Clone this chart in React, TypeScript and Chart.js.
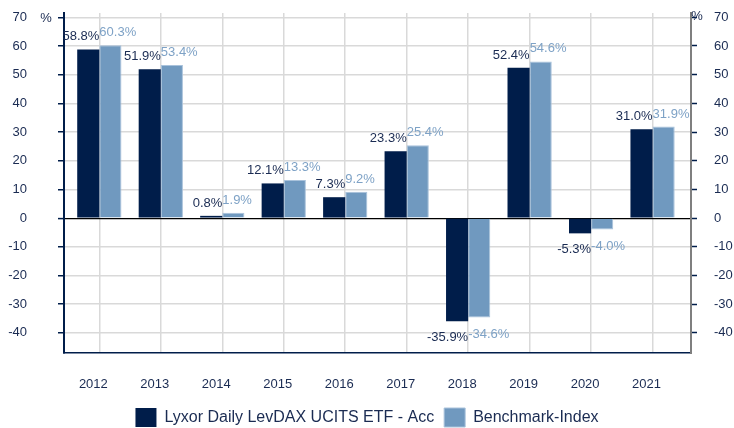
import React, { useEffect, useRef } from "react";
import { Chart, registerables } from "chart.js";

Chart.register(...registerables);

const years = ["2012", "2013", "2014", "2015", "2016", "2017", "2018", "2019", "2020", "2021"];
const etfValues = [58.8, 51.9, 0.8, 12.1, 7.3, 23.3, -35.9, 52.4, -5.3, 31.0];
const benchmarkValues = [60.3, 53.4, 1.9, 13.3, 9.2, 25.4, -34.6, 54.6, -4.0, 31.9];
const seriesNames = ["Lyxor Daily LevDAX UCITS ETF - Acc", "Benchmark-Index"];
const yTicks = [-40, -30, -20, -10, 0, 10, 20, 30, 40, 50, 60, 70];

const NAVY = "#001d4a";
const LIGHT = "#7099bf";
const TEXT = "#1a2b52";
const LABEL_LIGHT = "#7ea2c6";
const FONT = "Arial, 'Liberation Sans', sans-serif";

export default function App() {
  const ref = useRef<HTMLCanvasElement>(null);
  useEffect(() => {
    const canvas = ref.current;
    if (!canvas) return;

    const labelPlugin = {
      id: "valueLabels",
      afterDatasetsDraw(chart: any) {
        const ctx = chart.ctx;
        ctx.save();
        ctx.font = `13px ${FONT}`;
        chart.data.datasets.forEach((ds: any, di: number) => {
          const meta = chart.getDatasetMeta(di);
          meta.data.forEach((bar: any, i: number) => {
            const v = ds.data[i] as number;
            const text = v.toFixed(1) + "%";
            const half = bar.width / 2;
            ctx.fillStyle = di === 0 ? TEXT : LABEL_LIGHT;
            let x: number;
            if (di === 0) {
              ctx.textAlign = "right";
              x = bar.x + half;
            } else {
              ctx.textAlign = "left";
              x = bar.x - half;
            }
            if (v >= 0) {
              ctx.textBaseline = "alphabetic";
              ctx.fillText(text, x, bar.y - 9);
            } else {
              ctx.textBaseline = "top";
              ctx.fillText(text, x, bar.y + 10);
            }
          });
        });
        ctx.restore();
      },
      afterDraw(chart: any) {
        const ctx = chart.ctx;
        const y = chart.scales.y.getPixelForValue(70);
        ctx.save();
        ctx.font = `13px ${FONT}`;
        ctx.fillStyle = TEXT;
        ctx.textAlign = "center";
        ctx.textBaseline = "middle";
        ctx.fillText("%", 46, y + 1);
        ctx.fillText("%", chart.chartArea.right + 6, y - 1);
        ctx.restore();
      },
    };

    const setTicks = (scale: any) => {
      scale.ticks = yTicks.map((v) => ({ value: v }));
    };

    const chart = new Chart(canvas, {
      type: "bar",
      data: {
        labels: years,
        datasets: [
          {
            label: seriesNames[0],
            data: etfValues,
            backgroundColor: NAVY,
            borderWidth: 0,
            categoryPercentage: 0.72,
            barPercentage: 1,
          },
          {
            label: seriesNames[1],
            data: benchmarkValues,
            backgroundColor: LIGHT,
            borderColor: "#a9c2db",
            borderWidth: 1,
            categoryPercentage: 0.72,
            barPercentage: 1,
          },
        ],
      },
      options: {
        responsive: false,
        animation: false,
        devicePixelRatio: 1,
        layout: { padding: { top: 13, left: 0, right: 0, bottom: -9 } },
        plugins: {
          tooltip: { enabled: false },
          legend: {
            position: "bottom",
            labels: {
              boxWidth: 21,
              boxHeight: 19,
              padding: 10,
              color: TEXT,
              font: { family: FONT, size: 16 },
            },
          },
        },
        scales: {
          x: {
            type: "category",
            offset: true,
            afterBuildTicks: (scale: any) => {
              scale._startValue = -0.575;
              scale._valueRange = 10.2;
            },
            afterFit: (scale: any) => {
              scale.height = 45;
            },
            grid: {
              offset: false,
              color: "#d9d9d9",
              lineWidth: 1.5,
              drawTicks: false,
            },
            border: { color: NAVY, width: 1.5 },
            ticks: {
              color: TEXT,
              font: { family: FONT, size: 13 },
              padding: 24,
              labelOffset: -6,
              maxRotation: 0,
              autoSkip: false,
            },
          },
          y: {
            position: "left",
            min: -47,
            max: 71.5,
            afterBuildTicks: setTicks,
            afterFit: (scale: any) => {
              scale.width = 64;
              scale.paddingTop = 0;
              scale.paddingBottom = 0;
            },
            grid: {
              color: (c: any) => (c.tick && c.tick.value === 0 ? "#000000" : "#d9d9d9"),
              lineWidth: (c: any) => (c.tick && c.tick.value === 0 ? 1.2 : 1.5),
              tickLength: 6,
              tickColor: NAVY,
              tickWidth: 1.5,
            },
            border: { color: NAVY, width: 2 },
            ticks: {
              color: TEXT,
              font: { family: FONT, size: 13 },
              padding: 31,
            },
          },
          y1: {
            position: "right",
            min: -47,
            max: 71.5,
            afterBuildTicks: setTicks,
            afterFit: (scale: any) => {
              scale.width = 43;
              scale.paddingTop = 0;
              scale.paddingBottom = 0;
            },
            grid: {
              drawOnChartArea: false,
              tickLength: 6,
              tickColor: NAVY,
              tickWidth: 1.5,
            },
            border: { color: "#7f7f7f", width: 2 },
            ticks: {
              color: TEXT,
              font: { family: FONT, size: 13 },
              padding: 17,
            },
          },
        },
      },
      plugins: [labelPlugin],
    });
    return () => chart.destroy();
  }, []);

  return (
    <div style={{ position: "absolute", left: 0, top: 0, width: 734, height: 428, background: "#fff" }}>
      <canvas ref={ref} width={734} height={428} />
    </div>
  );
}
